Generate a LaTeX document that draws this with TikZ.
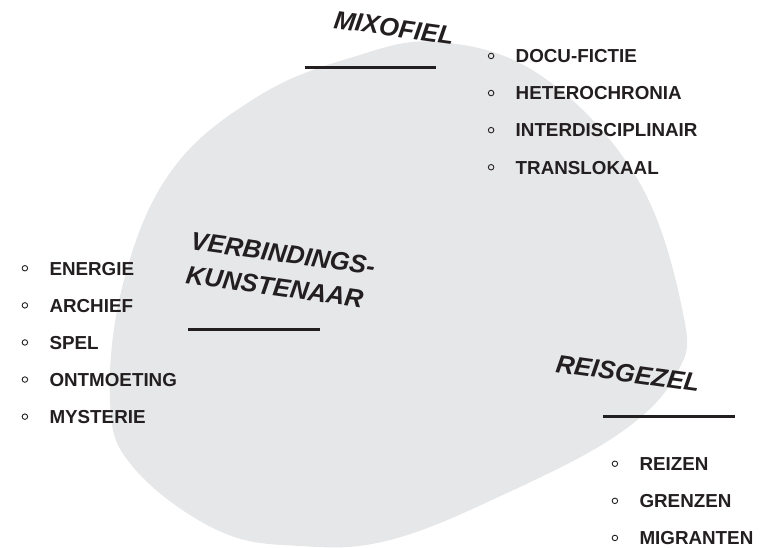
\documentclass[tikz,border=0pt]{standalone}
\usepackage{fontspec}
\setmainfont{Liberation Sans}
\usepackage{tikz}
\usetikzlibrary{positioning}
\definecolor{blobgray}{HTML}{E6E7E8}
\definecolor{ink}{HTML}{231F20}

\begin{document}
\begin{tikzpicture}[
    x=1pt, y=1pt,
    % spacing of the list rows
    node distance=23.2pt,
    item/.style={font=\fontsize{18.8}{20}\selectfont\bfseries, text=ink, anchor=west, inner sep=0pt, text height=13.5pt, text depth=0pt, label={[dot, xshift=-21.2pt]left:{}}},
    dot/.style={circle, draw=ink, line width=0.9pt, minimum size=5.5pt, inner sep=0pt},
    head/.style={font=\fontsize{25.5}{34}\selectfont\bfseries\itshape, text=ink, anchor=base west, inner sep=0pt, rotate=-8},
    rule/.style={draw=ink, line width=3pt}
  ]
  \useasboundingbox (0,0) rectangle (775,547);

  % Blob
  \fill[blobgray] plot[smooth cycle, tension=0.65] coordinates {
    (440,505) (543,470) (638,367) (683,234) (677,174) (620,114) (507,54) (390,7)
    (300,1) (217,17) (133,80) (110,147) (124,267) (172,377) (257,450) (350,489)};

  % Headings
  \node[head] (mixofiel) at (333,519) {MIXOFIEL};
  \node[head, align=left] (verbinder) at (185,264) {VERBINDINGS-\\KUNSTENAAR};
  \node[head] (reisgezel) at (555,175) {REISGEZEL};

  \draw[rule] (305,479) -- (436,479);
  \draw[rule] (188,218) -- (320,218);
  \draw[rule] (603,131) -- (735,131);

  % Mixofiel list
  \node[item, anchor=base west] (docu) at (515.5,484.3) {DOCU-FICTIE};
  \node[item, below=of docu.south west, anchor=north west] (hetero) {HETEROCHRONIA};
  \node[item, below=of hetero.south west, anchor=north west] (inter) {INTERDISCIPLINAIR};
  \node[item, below=of inter.south west, anchor=north west] (trans) {TRANSLOKAAL};

  % Verbindingskunstenaar list
  \node[item, anchor=base west] (energie) at (49.3,272) {ENERGIE};
  \node[item, below=of energie.south west, anchor=north west] (archief) {ARCHIEF};
  \node[item, below=of archief.south west, anchor=north west] (spel) {SPEL};
  \node[item, below=of spel.south west, anchor=north west] (ontmoet) {ONTMOETING};
  \node[item, below=of ontmoet.south west, anchor=north west] (myst) {MYSTERIE};

  % Reisgezel list
  \node[item, anchor=base west] (reizen) at (639.3,76.5) {REIZEN};
  \node[item, below=of reizen.south west, anchor=north west] (grenzen) {GRENZEN};
  \node[item, below=of grenzen.south west, anchor=north west] (migrant) {MIGRANTEN};

\end{tikzpicture}
\end{document}
